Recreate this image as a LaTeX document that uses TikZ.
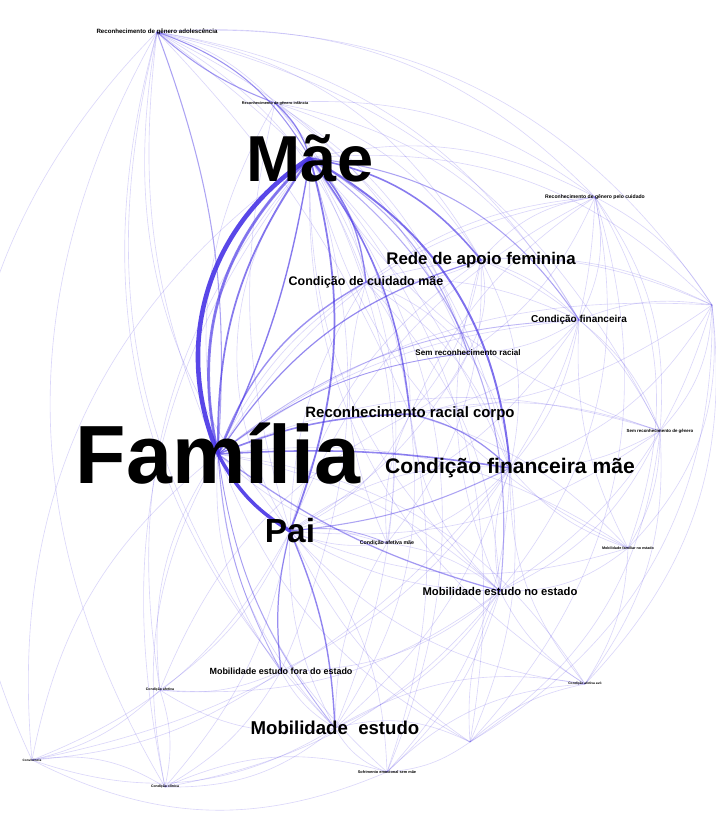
\documentclass[tikz,border=0pt]{standalone}
\usepackage{fontspec}
\setmainfont{Liberation Sans}
\usetikzlibrary{backgrounds}
\definecolor{edgeblue}{RGB}{72,52,230}
\newcommand{\sz}[1]{\bfseries\fontsize{#1}{#1}\selectfont}
\tikzset{
    lbl/.style={inner sep=0pt, text=black},
    faint/.style={draw=edgeblue, draw opacity=0.2, line width=0.35pt},
    mid/.style={draw=edgeblue, draw opacity=0.65, line width=0.8pt},
    heavy/.style={draw=edgeblue, draw opacity=0.9, line width=2.6pt},
}
\begin{document}
\begin{tikzpicture}[x=0.02cm, y=-0.02cm]
    \useasboundingbox (0,0) rectangle (716,828);
    % labels
    \node[lbl, font=\sz{47}] (fam) at (218,454) {Família};
    \node[lbl, font=\sz{37}] (mae) at (310,158) {Mãe};
    \node[lbl, font=\sz{19}] (pai) at (290,531) {Pai};
    \node[lbl, font=\sz{12}] (finm) at (510,468) {Condição financeira mãe};
    \node[lbl, font=\sz{8.5}] (rac) at (410,414) {Reconhecimento racial corpo};
    \node[lbl, font=\sz{9.6}] (rede) at (481,260) {Rede de apoio feminina};
    \node[lbl, font=\sz{7.1}] (cuid) at (366,282) {Condição de cuidado mãe};
    \node[lbl, font=\sz{5.7}] (fin) at (579,320) {Condição financeira};
    \node[lbl, font=\sz{4.6}] (semrac) at (468,353) {Sem reconhecimento racial};
    \node[lbl, font=\sz{6.4}] (mobe) at (500,591) {Mobilidade estudo no estado};
    \node[lbl, font=\sz{5.1}] (mobf) at (281,671) {Mobilidade estudo fora do estado};
    \node[lbl, font=\sz{10.6}] (mob) at (335,728) {Mobilidade\ \ estudo};
    \node[lbl, font=\sz{3.5}] (gadol) at (157,32) {Reconhecimento de gênero adolescência};
    \node[lbl, font=\sz{2.2}] (ginf) at (275,103) {Reconhecimento de gênero infância};
    \node[lbl, font=\sz{2.9}] (gcuid) at (595,197) {Reconhecimento de gênero pelo cuidado};
    \node[lbl, font=\sz{2.5}] (semg) at (660,431) {Sem reconhecimento de gênero};
    \node[lbl, font=\sz{2.1}] (mobfam) at (628,548) {Mobilidade familiar no estado};
    \node[lbl, font=\sz{3}] (afet) at (387,543) {Condição afetiva mãe};
    \node[lbl, font=\sz{1.9}] (n1) at (585,684) {Condição afetiva avó};
    \node[lbl, font=\sz{2}] (n2) at (160,690) {Condição afetiva};
    \node[lbl, font=\sz{1.8}] (n3) at (32,760) {Convivência};
    \node[lbl, font=\sz{2}] (n4) at (165,787) {Condição clínica};
    \node[lbl, font=\sz{2.2}] (n5) at (387,772) {Sofrimento emocional sem mãe};
    \coordinate (r1) at (712,305);
    \coordinate (r2) at (470,742);

    \begin{scope}[on background layer]
    \fill[white] (0,0) rectangle (716,828);
    % faint edges
    \foreach \a/\b/\c in {gadol/mae/20, gadol/fam/-15, gadol/pai/-25, gadol/rede/25, gadol/cuid/20,
        gadol/fin/25, gadol/gcuid/25, gadol/ginf/15, gadol/rac/10, gadol/finm/15, gadol/mob/-30,
        gadol/mobf/-25, gadol/n3/-35, gadol/n4/-30, gadol/r1/30, gadol/semg/25, gadol/semrac/20,
        ginf/mae/15, ginf/fam/-20, ginf/pai/-15, ginf/rede/20, ginf/cuid/15, ginf/rac/15, ginf/finm/20, ginf/gcuid/20,
        ginf/semrac/20, ginf/fin/25,
        gcuid/mae/-20, gcuid/fam/-25, gcuid/rede/-20, gcuid/cuid/-15, gcuid/fin/20, gcuid/semrac/15,
        gcuid/rac/-15, gcuid/finm/15, gcuid/pai/-20, gcuid/semg/20, gcuid/mobe/25, gcuid/r1/15, gcuid/mobfam/25,
        gcuid/r2/30,
        r1/mae/-25, r1/fam/-20, r1/rede/-15, r1/fin/-15, r1/finm/20, r1/rac/15, r1/semg/20, r1/mobfam/25, r1/cuid/-20,
        r1/n1/25, r1/mobe/20, r1/r2/30,
        semg/fam/-20, semg/mae/20, semg/rede/-20, semg/fin/-15, semg/finm/15, semg/rac/-15, semg/pai/20,
        semg/mobe/20, semg/mobfam/15, semg/n1/20, semg/r2/25,
        mobfam/fam/-20, mobfam/mae/25, mobfam/finm/15, mobfam/mobe/20, mobfam/pai/20, mobfam/rac/-15, mobfam/fin/15, mobfam/n1/15,
        n1/fam/-25, n1/mae/30, n1/pai/20, n1/mobe/15, n1/finm/20, n1/mob/-20, n1/n5/-20,
        mobe/fam/-15, mobe/mae/25, mobe/pai/15, mobe/finm/15, mobe/rac/20, mobe/mob/15, mobe/mobf/20,
        mobe/rede/20, mobe/cuid/-20, mobe/n5/15,
        afet/fam/15, afet/mae/-20, afet/pai/15, afet/finm/-15, afet/rac/15, afet/mobe/15, afet/mob/-15,
        afet/cuid/20, afet/rede/-20,
        mob/fam/20, mob/mae/-25, mob/pai/15, mob/mobf/15, mob/n2/20, mob/n3/25, mob/n4/20, mob/n5/-20, mob/rac/-20, mob/finm/-15,
        mobf/fam/20, mobf/mae/-20, mobf/n2/15, mobf/n4/15, mobf/finm/-15,
        n2/fam/20, n2/mae/25, n2/pai/-15, n2/n3/15, n2/n4/15, n2/mobe/-20, n2/rac/20,
        n3/fam/20, n3/mae/30, n3/pai/-20, n3/n4/20, n3/mobf/-15, n3/n5/-25, n3/finm/-20,
        n4/fam/20, n4/mae/25, n4/pai/-15, n4/n5/20, n4/mobe/-20,
        n5/fam/20, n5/mae/-30, n5/pai/-20, n5/finm/-20, n5/rac/-15,
        r2/fam/20, r2/mae/-25, r2/pai/15, r2/mobe/15, r2/finm/-15, r2/mob/-20, r2/n5/15, r2/n1/15,
        rede/fam/-20, rede/cuid/15, rede/fin/15, rede/semrac/20, rede/rac/15, rede/finm/20, rede/pai/-20,
        cuid/fam/-15, cuid/fin/15, cuid/rac/20, cuid/finm/20, cuid/pai/-15, cuid/semrac/15,
        fin/fam/-15, fin/finm/15, fin/rac/20, fin/semrac/15, fin/pai/20,
        semrac/fam/-15, semrac/rac/20, semrac/finm/15, semrac/pai/15,
        rac/pai/20, finm/pai/-20, mae/pai/-35, mae/fam/-30}
        \draw[faint] (\a.center) to[bend left=\c] (\b.center);
    % stronger edges
    \foreach \a/\b/\c/\w/\o in {mae/rede/20/0.9/0.65, mae/finm/28/1.1/0.7, mae/rac/15/0.9/0.65,
        mae/cuid/18/0.8/0.6, mae/fin/25/0.6/0.45, mae/semrac/20/0.6/0.4, mae/ginf/-15/0.7/0.55,
        mae/gadol/-20/0.6/0.45, mae/pai/18/1/0.65, mae/mobe/30/0.6/0.4, fam/rac/10/0.9/0.6,
        fam/finm/6/0.9/0.6, fam/rede/20/0.7/0.5, fam/cuid/20/0.8/0.55, fam/mobe/-10/0.7/0.5,
        fam/gadol/-12/0.6/0.45, fam/semrac/15/0.5/0.4, fam/fin/18/0.5/0.35, fam/mob/-15/0.5/0.4,
        fam/mobf/-12/0.5/0.4, pai/mob/10/0.8/0.6, pai/mobf/-10/0.7/0.55, gadol/ginf/-10/0.6/0.5,
        rac/finm/15/0.7/0.55, pai/afet/15/0.5/0.4, pai/finm/-10/0.6/0.45}
        \draw[mid, line width=\w pt, draw opacity=\o] (\a.center) to[bend left=\c] (\b.center);
    \draw[heavy] (fam.center) to[bend left=40] (mae.center);
    \draw[mid, line width=1.6pt] (fam.center) to[bend left=30] (mae.center);
    \draw[mid, line width=1pt] (fam.center) to[bend left=18] (mae.center);
    \draw[mid] (fam.center) to[bend right=8] (mae.center);
    \draw[heavy, line width=2pt] (fam.center) to[bend right=15] (pai.center);
    \end{scope}
\end{tikzpicture}
\end{document}
